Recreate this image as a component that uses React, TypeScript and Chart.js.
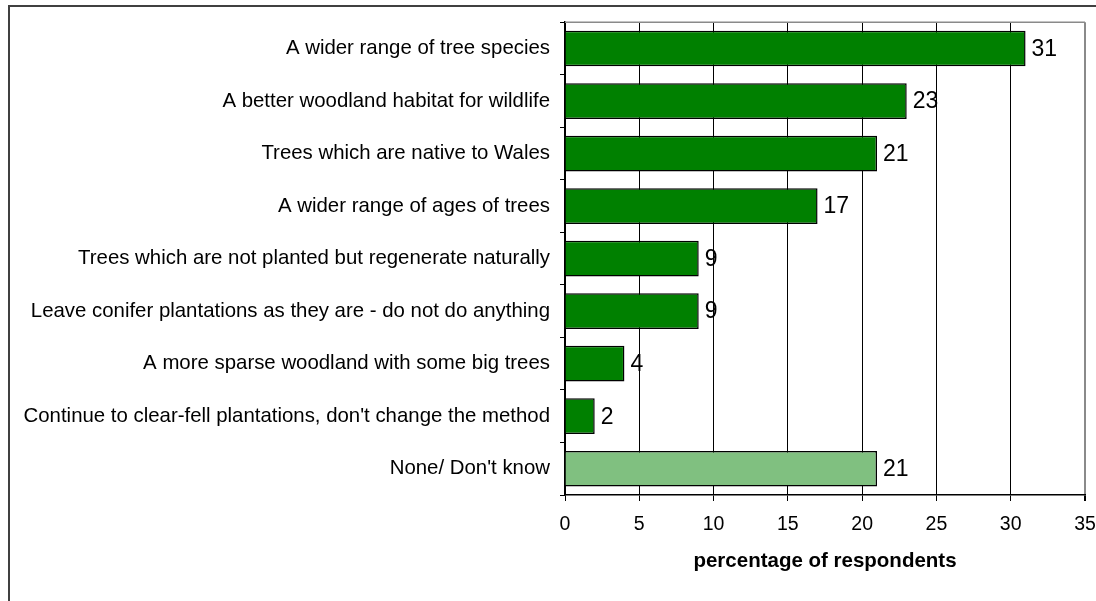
import React, { useEffect, useRef } from "react";
import { Chart, registerables } from "chart.js";

Chart.register(...registerables);

const categories = [
  "A wider range of tree species",
  "A better woodland habitat for wildlife",
  "Trees which are native to Wales",
  "A wider range of ages of trees",
  "Trees which are not planted but regenerate naturally",
  "Leave conifer plantations as they are - do not do anything",
  "A more sparse woodland with some big trees",
  "Continue to clear-fell plantations, don't change the method",
  "None/ Don't know",
];
const values = [31, 23, 21, 17, 9, 9, 4, 2, 21];
const barColors = [
  "#008000", "#008000", "#008000", "#008000", "#008000",
  "#008000", "#008000", "#008000", "#80c080",
];
const xMin = 0;
const xMax = 35;
const xStep = 5;
const axisTitle = "percentage of respondents";

const FONT = "'Liberation Sans', Arial, sans-serif";

export default function App() {
  const ref = useRef<HTMLCanvasElement>(null);

  useEffect(() => {
    document.body.style.margin = "0";
    const canvas = ref.current;
    if (!canvas) return;

    const framePlugin = {
      id: "frame",
      beforeDatasetsDraw(chart: any) {
        const { ctx, chartArea } = chart;
        ctx.save();
        ctx.strokeStyle = "#8a8a8a";
        ctx.lineWidth = 1.5;
        ctx.beginPath();
        ctx.moveTo(chartArea.left, chartArea.top);
        ctx.lineTo(chartArea.right, chartArea.top);
        ctx.stroke();
        ctx.restore();
      },
      afterDraw(chart: any) {
        const { ctx } = chart;
        ctx.save();
        ctx.strokeStyle = "#404040";
        ctx.lineWidth = 2;
        ctx.beginPath();
        ctx.moveTo(9, 601);
        ctx.lineTo(9, 6);
        ctx.lineTo(1096, 6);
        ctx.stroke();
        ctx.restore();
      },
    };

    const valueLabelPlugin = {
      id: "valueLabels",
      afterDatasetsDraw(chart: any) {
        const { ctx } = chart;
        const meta = chart.getDatasetMeta(0);
        ctx.save();
        ctx.fillStyle = "#000";
        ctx.font = `23px ${FONT}`;
        ctx.textAlign = "left";
        ctx.textBaseline = "middle";
        meta.data.forEach((bar: any, i: number) => {
          ctx.fillText(String(values[i]), bar.x + 6, bar.y + 1);
        });
        ctx.restore();
      },
    };

    const chart = new Chart(canvas, {
      type: "bar",
      data: {
        labels: categories,
        datasets: [
          {
            data: values,
            backgroundColor: barColors,
            borderColor: "#000",
            borderWidth: 1.5,
            barPercentage: 0.68,
            categoryPercentage: 1,
          },
        ],
      },
      options: {
        indexAxis: "y",
        responsive: false,
        animation: false,
        layout: { padding: { top: 21, right: 11, left: 0, bottom: 0 } },
        plugins: { legend: { display: false }, tooltip: { enabled: false } },
        scales: {
          x: {
            min: xMin,
            max: xMax,
            ticks: {
              stepSize: xStep,
              color: "#000",
              font: { family: FONT, size: 19.5 },
              padding: 12,
            },
            grid: {
              color: (c: any) => (c.tick && c.tick.value === xMax ? "#8a8a8a" : "#000"),
              lineWidth: (c: any) => (c.tick && c.tick.value === xMax ? 2 : 1),
              tickColor: "#000",
              tickLength: 6,
            },
            border: { color: "#000", width: 1.5 },
            title: {
              display: true,
              text: axisTitle,
              color: "#000",
              font: { family: FONT, size: 20.5, weight: "bold" },
              padding: { top: 0, bottom: 27 },
            },
            afterFit: (s: any) => {
              s.height = 106;
              s.paddingLeft = 0;
              s.paddingRight = 0;
            },
          },
          y: {
            ticks: {
              color: "#000",
              font: { family: FONT, size: 20.4 },
              padding: 10,
            },
            grid: {
              drawOnChartArea: false,
              color: "#000",
              tickLength: 5,
            },
            border: { color: "#000", width: 1.5 },
            afterFit: (s: any) => {
              s.width = 565;
            },
          },
        },
      } as any,
      plugins: [framePlugin, valueLabelPlugin],
    });

    return () => chart.destroy();
  }, []);

  return (
    <canvas ref={ref} width={1096} height={601} style={{ display: "block" }} />
  );
}
